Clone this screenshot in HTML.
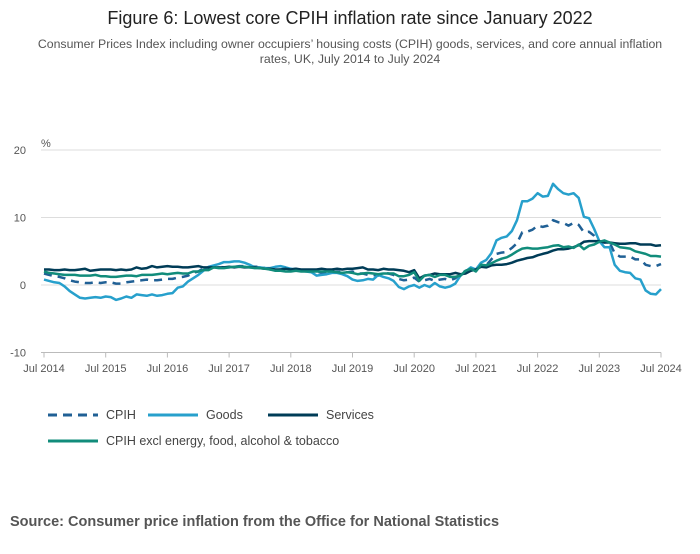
<!DOCTYPE html>
<html><head><meta charset="utf-8"><style>
body{margin:0;background:#fff;font-family:"Liberation Sans",sans-serif;}
</style></head><body>
<svg width="700" height="549" viewBox="0 0 700 549">
<text x="350" y="24" text-anchor="middle" font-size="18" fill="#222">Figure 6: Lowest core CPIH inflation rate since January 2022</text>
<text x="350" y="48" text-anchor="middle" font-size="12.3" fill="#555">Consumer Prices Index including owner occupiers’ housing costs (CPIH) goods, services, and core annual inflation</text>
<text x="350" y="63" text-anchor="middle" font-size="12.3" fill="#555">rates, UK, July 2014 to July 2024</text>
<text x="41" y="147" font-size="11" fill="#555">%</text>
<g id="grid"></g><g id="series"></g>
<g>
<line x1="48" y1="415" x2="98" y2="415" stroke="#206095" stroke-width="3" stroke-dasharray="9,6"/>
<text x="106" y="419" font-size="12.5" fill="#444">CPIH</text>
<line x1="148" y1="415" x2="198" y2="415" stroke="#27a0cc" stroke-width="3"/>
<text x="206" y="419" font-size="12.5" fill="#444">Goods</text>
<line x1="268" y1="415" x2="318" y2="415" stroke="#003c57" stroke-width="3"/>
<text x="326" y="419" font-size="12.5" fill="#444">Services</text>
<line x1="48" y1="441" x2="98" y2="441" stroke="#118c7b" stroke-width="3"/>
<text x="106" y="445" font-size="12.5" fill="#444">CPIH excl energy, food, alcohol &amp; tobacco</text>
</g>
<text x="10" y="526" font-size="14.5" font-weight="bold" fill="#555">Source: Consumer price inflation from the Office for National Statistics</text>
</svg>
<script>
const yTicks=[20,10,0,-10];
const xLabels=["Jul 2014","Jul 2015","Jul 2016","Jul 2017","Jul 2018","Jul 2019","Jul 2020","Jul 2021","Jul 2022","Jul 2023","Jul 2024"];
const cpih=[1.7,1.5,1.3,1.2,1.0,0.7,0.5,0.4,0.3,0.3,0.4,0.3,0.4,0.4,0.2,0.2,0.4,0.5,0.6,0.7,0.8,0.7,0.7,0.8,0.9,0.9,1.1,1.2,1.4,1.8,2.0,2.5,2.5,2.7,2.7,2.6,2.6,2.7,2.8,2.8,2.8,2.7,2.7,2.5,2.3,2.2,2.3,2.3,2.3,2.4,2.2,2.2,2.2,2.0,1.8,1.8,1.8,2.0,1.9,1.9,2.0,1.7,1.7,1.5,1.5,1.4,1.8,1.7,1.5,0.9,0.7,0.8,1.1,0.5,0.7,0.9,0.6,0.8,0.9,0.7,1.0,1.6,2.1,2.4,2.1,3.0,2.9,3.8,4.6,4.8,4.9,5.5,6.2,7.8,7.9,8.2,8.8,8.6,8.8,9.6,9.3,9.2,8.8,9.2,8.9,7.8,7.9,7.3,6.4,6.3,6.3,4.7,4.2,4.2,4.2,3.8,3.8,3.0,2.8,2.8,3.1];
const goods=[0.8,0.6,0.4,0.3,-0.2,-0.9,-1.4,-1.9,-2.0,-1.9,-1.8,-1.9,-1.7,-1.8,-2.2,-2.0,-1.7,-1.9,-1.4,-1.5,-1.6,-1.4,-1.6,-1.5,-1.3,-1.2,-0.4,-0.2,0.5,1.0,1.5,2.1,2.7,2.9,3.1,3.4,3.4,3.5,3.5,3.3,3.0,2.6,2.6,2.5,2.5,2.7,2.8,2.6,2.4,2.3,2.1,2.0,1.9,1.4,1.5,1.6,1.8,1.8,1.6,1.3,0.8,0.6,0.7,0.9,0.8,1.5,1.2,1.0,0.6,-0.3,-0.6,-0.2,0.0,-0.4,0.0,-0.3,0.3,-0.2,-0.4,-0.2,0.2,1.4,2.0,2.6,2.3,3.3,3.7,4.7,6.6,7.0,7.2,8.0,9.6,12.4,12.4,12.8,13.6,13.1,13.2,15.0,14.2,13.6,13.4,13.6,12.9,10.1,9.9,8.3,6.5,5.6,5.6,3.0,2.1,1.9,1.8,1.0,0.8,-0.8,-1.3,-1.4,-0.6];
const services=[2.3,2.3,2.2,2.2,2.3,2.2,2.2,2.3,2.4,2.1,2.2,2.3,2.3,2.3,2.2,2.3,2.2,2.3,2.6,2.4,2.5,2.8,2.6,2.7,2.8,2.7,2.7,2.6,2.6,2.7,2.8,2.6,2.6,2.6,2.6,2.6,2.7,2.6,2.7,2.6,2.6,2.6,2.5,2.4,2.4,2.3,2.3,2.4,2.3,2.4,2.3,2.3,2.3,2.3,2.4,2.3,2.3,2.4,2.3,2.4,2.4,2.5,2.6,2.3,2.3,2.2,2.4,2.3,2.3,2.2,2.1,1.9,2.2,1.0,1.4,1.5,1.7,1.6,1.6,1.6,1.8,1.6,1.7,2.1,2.3,2.7,2.6,2.9,3.0,3.0,3.1,3.3,3.6,3.8,4.0,4.1,4.4,4.6,4.8,5.1,5.3,5.3,5.4,5.6,5.9,6.4,6.5,6.5,6.5,6.3,6.3,6.2,6.1,6.1,6.2,6.2,6.0,6.0,6.0,5.8,5.9];
const core=[2.0,1.8,1.7,1.6,1.5,1.5,1.5,1.4,1.4,1.4,1.5,1.3,1.3,1.2,1.2,1.3,1.4,1.4,1.3,1.5,1.5,1.5,1.6,1.7,1.6,1.7,1.8,1.7,1.7,2.0,2.0,2.2,2.2,2.6,2.5,2.5,2.6,2.7,2.7,2.7,2.6,2.5,2.5,2.4,2.3,2.1,2.1,2.0,2.0,2.1,2.0,2.0,2.0,2.0,2.0,2.0,2.0,1.9,1.8,1.9,1.8,1.6,1.7,1.8,1.7,1.6,1.7,1.7,1.7,1.3,1.3,1.5,1.9,0.6,1.4,1.5,1.2,1.5,1.5,1.2,1.2,1.4,2.1,2.4,2.0,3.0,2.9,3.2,3.6,3.9,4.1,4.5,5.0,5.4,5.5,5.4,5.4,5.5,5.6,5.8,5.9,5.6,5.7,5.5,6.0,5.3,5.8,6.0,6.4,6.6,6.3,6.0,5.6,5.5,5.4,5.0,4.8,4.6,4.3,4.3,4.2];
const NS="http://www.w3.org/2000/svg";
const x0=44,x1=661,y0=285,pxPerUnit=6.75;
const xs=i=>x0+(x1-x0)*i/(cpih.length-1);
const ys=v=>y0-v*pxPerUnit;
const grid=document.getElementById('grid');
yTicks.forEach(t=>{
 const l=document.createElementNS(NS,'line');
 
 
 l.setAttribute('x1',41);l.setAttribute('x2',661);l.setAttribute('y1',ys(t));l.setAttribute('y2',ys(t));
 l.setAttribute('stroke','#ddd');l.setAttribute('stroke-width','1');grid.appendChild(l);
 const tx=document.createElementNS(NS,'text');
 
 
 tx.setAttribute('x',26);tx.setAttribute('y',ys(t)+4);tx.setAttribute('text-anchor','end');
 tx.setAttribute('font-size','11');tx.setAttribute('fill','#555');tx.textContent=t;grid.appendChild(tx);
});
const ax=document.createElementNS(NS,'line');


ax.setAttribute('x1',41);ax.setAttribute('x2',661);ax.setAttribute('y1',ys(-10));ax.setAttribute('y2',ys(-10));
ax.setAttribute('stroke','#bbb');grid.appendChild(ax);
xLabels.forEach((lab,k)=>{
 const x=xs(k*12);
 const tk=document.createElementNS(NS,'line');
 
 
 tk.setAttribute('x1',x);tk.setAttribute('x2',x);tk.setAttribute('y1',ys(-10));tk.setAttribute('y2',ys(-10)+5);
 tk.setAttribute('stroke','#bbb');grid.appendChild(tk);
 const tx=document.createElementNS(NS,'text');
 
 
 tx.setAttribute('x',x);tx.setAttribute('y',372);tx.setAttribute('text-anchor','middle');
 tx.setAttribute('font-size','11');tx.setAttribute('fill','#555');tx.textContent=lab;grid.appendChild(tx);
});
const sg=document.getElementById('series');
function draw(arr,color,name,dash){
 const p=document.createElementNS(NS,'polyline');
 
 
 p.setAttribute('points',arr.map((v,i)=>xs(i).toFixed(1)+','+ys(v).toFixed(1)).join(' '));
 p.setAttribute('fill','none');p.setAttribute('stroke',color);p.setAttribute('stroke-width','2.5');
 p.setAttribute('stroke-linejoin','round');
 if(dash)p.setAttribute('stroke-dasharray',dash);
 sg.appendChild(p);
}
draw(cpih,'#206095','cpih-line','8,6');
draw(goods,'#27a0cc','goods-line');
draw(services,'#003c57','services-line');
draw(core,'#118c7b','core-line');
</script>
</body></html>
